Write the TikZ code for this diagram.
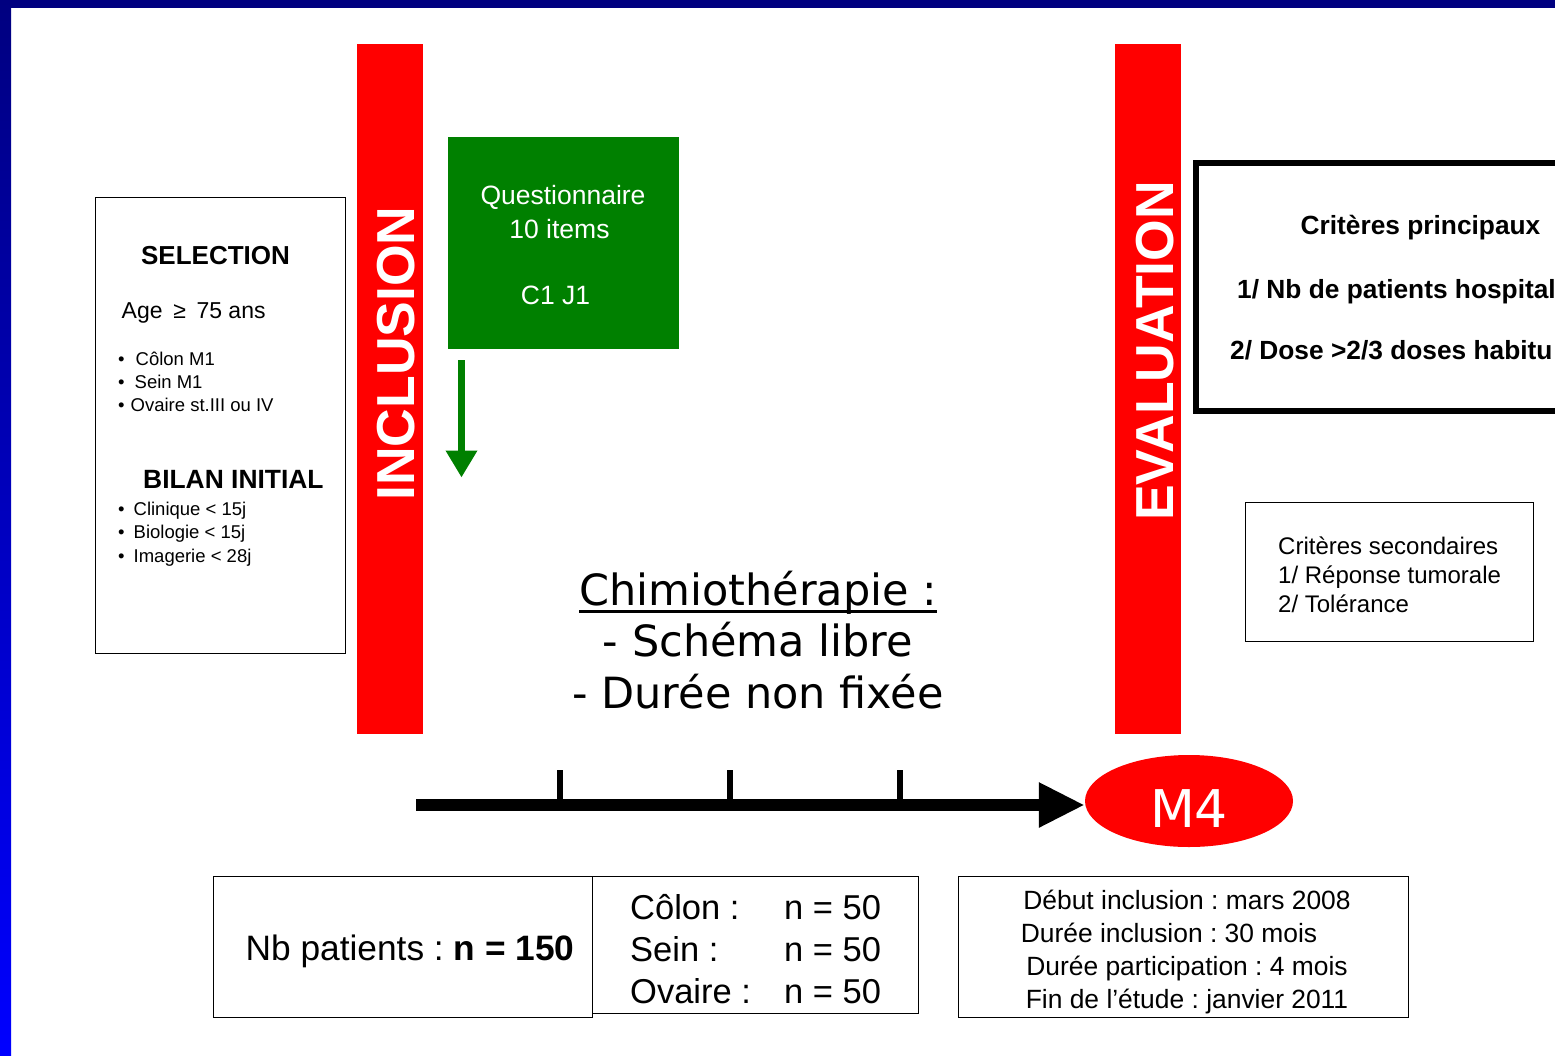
\documentclass[tikz,border=0pt]{standalone}
\usepackage{fontspec}
\setmainfont{Liberation Sans}
\newfontfamily\verdanafont{DejaVu Sans}
\usetikzlibrary{calc,positioning,shapes.geometric,arrows.meta}
\definecolor{slidenavy}{RGB}{0,0,128}
\definecolor{slideblue}{RGB}{0,0,255}
\definecolor{questgreen}{RGB}{0,128,0}
\frenchspacing

\begin{document}
\begin{tikzpicture}[x=1pt,y=-1pt,
  thinbox/.style={draw=black,line width=1.2pt,inner sep=0pt,anchor=north west},
  redbar/.style={fill=red,inner sep=0pt,anchor=north west,minimum width=66pt,minimum height=690pt},
  bartext/.style={rotate=90,text=white,inner sep=0pt,font=\bfseries\fontsize{53.5}{60}\selectfont},
  listitem/.style={anchor=base west,inner sep=0pt,font=\fontsize{18.5}{22}\selectfont},
  crittext/.style={inner sep=0pt,font=\bfseries\fontsize{26.3}{31}\selectfont}
  ]

\useasboundingbox (0,0) rectangle (1555,1055);
\clip (0,0) rectangle (1555,1055);
\fill[white] (0,0) rectangle (1555,1055);
\fill[slidenavy] (0,0) rectangle (1555,8);
\shade[top color=slidenavy,bottom color=slideblue] (0,0) rectangle (11,1055);

% selection box
\node[thinbox,minimum width=250pt,minimum height=456pt] (selbox) at (95,197) {};
\node[anchor=base,inner sep=0pt,font=\bfseries\fontsize{26}{31}\selectfont] (seltitle) at (215.5,264) {SELECTION};
\node[anchor=base west,inner sep=0pt,font=\fontsize{23}{27}\selectfont] (age) at (121.5,318) {Age \hspace{4.5pt}≥ \hspace{4pt}75 ans};
\node[listitem] (colon) at (118,365) {•\hspace{11pt}Côlon M1};
\node[listitem] (sein) at (118,388) {•\hspace{10pt}Sein M1};
\node[listitem] (ovaire) at (118,411) {•\hspace{6pt}Ovaire st.III ou IV};
\node[anchor=base west,inner sep=0pt,font=\bfseries\fontsize{26.4}{31}\selectfont] (bilan) at (143,488.5) {BILAN INITIAL};
\node[listitem] (clinique) at (118,515) {•\hspace{9pt}Clinique < 15j};
\node[listitem] (biologie) at (118,538.5) {•\hspace{9pt}Biologie < 15j};
\node[listitem] (imagerie) at (118,562) {•\hspace{9pt}Imagerie < 28j};

% red bars
\node[redbar] (inclbar) at (357,44) {};
\node[bartext] (incltext) at (396.5,353.5) {INCLUSION};
\node[redbar] (evalbar) at (1115,44) {};
\node[bartext] (evaltext) at (1155,351) {EVALUATION};

% questionnaire
\node[fill=questgreen,inner sep=0pt,anchor=north west,minimum width=231pt,minimum height=212pt] (quest) at (447.5,137) {};
\node[text=white,inner sep=0pt,align=center,font=\fontsize{26.5}{34}\selectfont] (questtext) at (563,245.5)
  {Questionnaire\\10 items\rule{7pt}{0pt}\\[32pt]C1 J1\rule{15pt}{0pt}};
\coordinate (qarrowtop) at (461.5,360);
\coordinate (qarrowtip) at (461.5,477.5);
\draw[line width=7pt,questgreen,-{Triangle[length=27pt,width=30pt]}] (qarrowtop) -- (qarrowtip);

% criteres
\node[draw=black,line width=6pt,inner sep=0pt,anchor=north west,minimum width=500pt,minimum height=248pt] (critbox) at (1193,160) {};
\node[crittext,anchor=base] (crittitle) at (1420.5,234) {Critères principaux};
\node[crittext,anchor=base west] (crit1) at (1237,298) {1/ Nb de patients hospital};
\node[crittext,anchor=base west] (crit2) at (1230,359) {2/ Dose >2/3 doses habitu};
\node[thinbox,minimum width=288pt,minimum height=139pt] (secbox) at (1245,502) {};
\node[anchor=west,inner sep=0pt,align=left,font=\fontsize{24}{29}\selectfont] (sectext) at (1278,575)
  {Critères secondaires\\1/ Réponse tumorale\\2/ Tolérance};

% chimiotherapie
\node[align=center,inner sep=0pt,font=\verdanafont\fontsize{43}{51.5}\selectfont] (chimio) at (758,640)
  {\vtop{\hbox{\raisebox{0pt}[\height][0pt]{Chimiothérapie :}}\kern5pt\hrule height 2.5pt}\\- Schéma libre\\- Durée non fixée};

% timeline
\coordinate (tstart) at (416,805);
\node[ellipse,fill=red,minimum width=208pt,minimum height=92pt,inner sep=0pt] (m4) at (1189,801) {};
\node[text=white,inner sep=0pt,font=\verdanafont\fontsize{52}{60}\selectfont] (m4text) at (1189,809) {M4};
\draw[line width=12pt,-{Triangle[length=46pt,width=42pt]}] (tstart) -- (tstart -| m4.west);
\foreach \tx in {560,730,900}
  \draw[line width=6pt] (\tx,770) -- (\tx,805);

% bottom boxes
\node[thinbox,minimum width=379pt,minimum height=141pt] (nbbox) at (213,876) {};
\node[inner sep=0pt,font=\fontsize{35.3}{42}\selectfont] (nbtext) at (410,951) {Nb patients : \textbf{n = 150}};
\node[thinbox,minimum width=326pt,minimum height=137pt] (cntbox) at (592,876) {};
\node[anchor=west,inner sep=0pt,align=left,font=\fontsize{34.5}{42}\selectfont] (cnttext) at (630,949)
  {\makebox[154pt][l]{Côlon :}n = 50\\\makebox[154pt][l]{Sein :}n = 50\\\makebox[154pt][l]{Ovaire :}n = 50};
\node[thinbox,minimum width=450pt,minimum height=141pt] (datebox) at (958,876) {};
\node[inner sep=0pt,align=center,font=\fontsize{26.4}{32.7}\selectfont] (datetext) at (1187,952)
  {Début inclusion : mars 2008\\Durée inclusion : 30 mois\rule{36pt}{0pt}\\Durée participation : 4 mois\\Fin de l’étude : janvier 2011};
\end{tikzpicture}
\end{document}
